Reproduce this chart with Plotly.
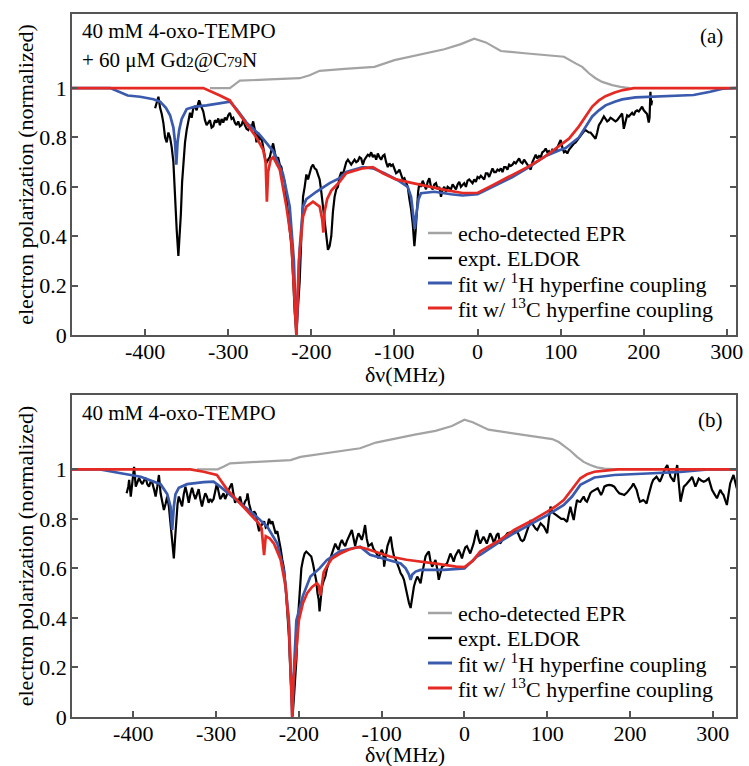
import plotly.graph_objects as go

FONT = "Liberation Serif"

# ---------------- Panel (a) data ----------------
gray_a_x = [-322, -298, -292, -286, -250, -214, -202, -190, -160, -124, -100, -70, -40, -20, -4, 10, 28, 60, 90, 104, 118, 126, 134, 142, 150, 162, 172, 183]
gray_a_y = [1.0, 1.0, 1.015, 1.03, 1.035, 1.04, 1.052, 1.07, 1.078, 1.086, 1.113, 1.135, 1.157, 1.178, 1.20, 1.185, 1.15, 1.14, 1.132, 1.127, 1.10, 1.086, 1.06, 1.04, 1.025, 1.012, 1.005, 1.0]

black_a_x = [-388, -386, -384, -382, -380, -378, -376, -374, -372, -370, -368, -366, -364, -362, -360, -358.5, -357, -355.5, -354, -352,
             -350, -348, -346, -344, -342, -340, -338, -336, -335, -333, -330, -328, -326, -324, -322, -320, -318, -316, -314, -312,
             -310, -308, -306, -304, -302, -300, -298, -296, -294, -292, -290, -288, -286, -284, -282, -280, -278, -276, -274, -272,
             -270, -268, -266, -264, -262, -260, -258, -256, -254.5, -252, -250, -248, -246, -244, -242, -240, -238, -236, -234, -232,
             -230, -228, -226, -224, -222, -220, -218, -216, -214, -212, -210, -208, -206, -204, -202, -200, -198, -196, -194, -192,
             -190, -188, -186, -184, -182, -180, -178, -176, -174, -172, -170, -168, -166, -164, -162, -160, -158, -156, -154, -152,
             -150, -148, -146, -144, -142, -140, -138, -136, -134, -132, -130, -128, -126, -124, -122, -120, -118, -116, -114, -112,
             -110, -108, -106, -104, -102, -100, -98, -96, -94, -92, -90, -88, -86, -84, -82, -80, -78, -76, -74.5, -73,
             -71.5, -70, -68, -66, -64, -62, -60, -58, -56, -54, -52, -50, -48, -46, -44, -42, -40, -38, -36, -34,
             -32, -30, -28, -26, -24, -22, -20, -18, -16, -14, -12, -10, -8, -6, -4, -2, 0, 2, 4, 6,
             8, 10, 12, 14, 16, 18, 20, 22, 24, 26, 28, 30, 32, 34, 36, 38, 40, 42, 44, 46,
             48, 50, 52, 54, 56, 58, 60, 62, 64, 66, 68, 70, 72, 74, 76, 78, 80, 82, 84, 86,
             88, 90, 92, 94, 96, 98, 100, 102, 104, 106, 108, 110, 112, 114, 116, 118, 120, 122, 124, 126,
             128, 130, 132, 134, 136, 138, 140, 142, 144, 146, 148, 150, 152, 154, 156, 158, 160, 162, 164, 166,
             168, 170, 172, 174, 176, 178, 180, 182, 184, 186, 188, 190, 192, 194, 196, 198, 200, 202, 204, 206,
             207, 208, 209, 210]
black_a_y = [0.918, 0.94, 0.965, 0.92, 0.895, 0.858, 0.80, 0.78, 0.82, 0.80, 0.76, 0.70, 0.55, 0.425, 0.32, 0.40, 0.49, 0.62, 0.70, 0.78,
             0.83, 0.86, 0.90, 0.88, 0.92, 0.925, 0.91, 0.94, 0.95, 0.93, 0.905, 0.87, 0.85, 0.86, 0.87, 0.84, 0.845, 0.87, 0.86, 0.877,
             0.85, 0.875, 0.86, 0.88, 0.87, 0.89, 0.90, 0.875, 0.88, 0.86, 0.85, 0.865, 0.845, 0.85, 0.87, 0.85, 0.835, 0.83, 0.85, 0.84,
             0.865, 0.83, 0.78, 0.82, 0.79, 0.80, 0.76, 0.72, 0.695, 0.71, 0.72, 0.75, 0.776, 0.74, 0.71, 0.72, 0.69, 0.68, 0.64, 0.62,
             0.56, 0.50, 0.44, 0.36, 0.24, 0.09, 0.01, 0.10, 0.22, 0.40, 0.56, 0.60, 0.65, 0.63, 0.66, 0.68, 0.69, 0.675, 0.67, 0.65,
             0.63, 0.58, 0.52, 0.45, 0.385, 0.345, 0.36, 0.40, 0.50, 0.56, 0.59, 0.60, 0.64, 0.66, 0.65, 0.68, 0.70, 0.71, 0.70, 0.69,
             0.70, 0.71, 0.70, 0.705, 0.72, 0.715, 0.69, 0.71, 0.72, 0.73, 0.725, 0.74, 0.72, 0.73, 0.71, 0.735, 0.72, 0.71, 0.725, 0.73,
             0.70, 0.68, 0.695, 0.685, 0.69, 0.67, 0.655, 0.66, 0.67, 0.65, 0.63, 0.635, 0.62, 0.60, 0.55, 0.51, 0.45, 0.36, 0.42, 0.52,
             0.58, 0.615, 0.60, 0.625, 0.61, 0.59, 0.62, 0.635, 0.60, 0.59, 0.61, 0.615, 0.59, 0.60, 0.56, 0.59, 0.60, 0.58, 0.60, 0.595,
             0.59, 0.61, 0.60, 0.59, 0.61, 0.62, 0.60, 0.61, 0.615, 0.60, 0.625, 0.63, 0.62, 0.615, 0.63, 0.62, 0.64, 0.635, 0.645, 0.635,
             0.63, 0.655, 0.655, 0.64, 0.66, 0.675, 0.66, 0.66, 0.67, 0.665, 0.675, 0.66, 0.68, 0.68, 0.67, 0.69, 0.685, 0.69, 0.70, 0.695,
             0.705, 0.715, 0.70, 0.695, 0.71, 0.70, 0.69, 0.68, 0.67, 0.70, 0.715, 0.73, 0.715, 0.725, 0.72, 0.74, 0.745, 0.755, 0.74, 0.745,
             0.735, 0.75, 0.745, 0.745, 0.76, 0.775, 0.79, 0.76, 0.74, 0.745, 0.735, 0.75, 0.76, 0.765, 0.775, 0.78, 0.79, 0.80, 0.81, 0.815,
             0.825, 0.83, 0.825, 0.82, 0.82, 0.81, 0.80, 0.795, 0.82, 0.85, 0.86, 0.87, 0.885, 0.875, 0.865, 0.87, 0.88, 0.875, 0.87, 0.865,
             0.87, 0.88, 0.89, 0.897, 0.835, 0.87, 0.89, 0.885, 0.895, 0.90, 0.89, 0.905, 0.91, 0.905, 0.915, 0.925, 0.91, 0.90, 0.895, 0.86,
             0.88, 0.985, 0.93, 0.95]

blue_a_x = [-488, -442, -421, -406, -390, -382, -375, -370, -366, -364, -362.5, -361, -359, -356, -350, -340, -326, -298, -290, -278,
            -262, -246, -234, -226, -221, -218, -214, -210, -206, -194, -178, -166, -158, -138, -126, -112, -96, -84, -80, -77,
            -75.5, -74, -71, -68, -52, -32, -18, 0, 22, 42, 62, 82, 100, 106, 122, 130, 138, 146, 154, 165,
            174, 190, 210, 234, 260, 280, 295, 311]
blue_a_y = [1.0, 1.0, 0.97, 0.965, 0.955, 0.945, 0.92, 0.89, 0.84, 0.78, 0.69, 0.78, 0.83, 0.875, 0.915, 0.925, 0.93, 0.945, 0.915, 0.86,
            0.81, 0.745, 0.65, 0.52, 0.30, 0.0, 0.35, 0.52, 0.55, 0.58, 0.615, 0.635, 0.66, 0.68, 0.675, 0.655, 0.627, 0.60, 0.56, 0.48,
            0.43, 0.48, 0.55, 0.574, 0.58, 0.57, 0.565, 0.57, 0.605, 0.64, 0.68, 0.725, 0.75, 0.757, 0.80, 0.845, 0.885, 0.91, 0.93, 0.945,
            0.954, 0.962, 0.965, 0.967, 0.972, 0.985, 0.998, 1.0]

red_a_x = [-488, -330, -310, -298, -290, -278, -266, -258, -255, -253.5, -252, -249, -246, -238, -230, -224, -220, -218, -215, -210,
           -206, -198, -190, -187, -185.5, -184, -181, -176, -166, -158, -138, -126, -114, -98, -78, -58, -38, -18, -6, 0,
           20, 40, 60, 80, 100, 110, 122, 130, 138, 146, 154, 165, 175, 188, 311]
red_a_y = [1.0, 1.0, 0.97, 0.95, 0.91, 0.857, 0.80, 0.75, 0.70, 0.54, 0.66, 0.71, 0.72, 0.67, 0.52, 0.38, 0.12, 0.0, 0.30, 0.48,
           0.52, 0.54, 0.52, 0.47, 0.415, 0.50, 0.55, 0.585, 0.62, 0.655, 0.675, 0.68, 0.655, 0.63, 0.615, 0.60, 0.587, 0.575, 0.575, 0.575,
           0.61, 0.645, 0.68, 0.72, 0.77, 0.795, 0.845, 0.885, 0.925, 0.95, 0.967, 0.982, 0.992, 1.0, 1.0]

# ---------------- Panel (b) data ----------------
gray_b_x = [-323, -298, -290, -283, -250, -210, -198, -160, -126, -107, -83, -60, -35, -15, 0, 10, 29, 60, 90, 106, 114, 122, 128, 136, 144, 152, 160, 169, 185]
gray_b_y = [1.0, 1.0, 1.012, 1.024, 1.03, 1.037, 1.05, 1.07, 1.085, 1.108, 1.125, 1.14, 1.155, 1.175, 1.20, 1.19, 1.16, 1.145, 1.13, 1.122, 1.11, 1.09, 1.075, 1.05, 1.03, 1.017, 1.008, 1.003, 1.0]

black_b_x = [-408, -406, -405, -403, -401, -399, -397, -395, -393, -391, -389, -387, -385, -383, -381, -379, -377, -375, -373, -371,
             -369, -367, -365, -363, -361, -359, -357, -355, -353, -351, -349.5, -348, -346.5, -345, -343, -341, -339, -337, -335, -333,
             -331, -329, -327, -325, -323, -321, -319, -317, -315, -313, -311, -309, -307, -305, -303, -301, -299, -297, -295, -293,
             -291, -289, -287, -285, -283, -281, -279, -277, -275, -273, -271, -269, -267, -265, -263, -262, -260, -258, -256, -254,
             -252, -250, -248, -246, -244, -242, -240, -238, -236, -234, -232, -230, -228, -226, -224, -222, -220, -218, -216, -214,
             -212, -210.5, -209, -207.5, -205.5, -203, -201, -199, -197, -195, -193, -191, -189, -187, -185, -183, -181, -179, -177.5, -176,
             -175, -173.5, -172, -170, -168, -166, -164, -162, -160, -158, -156, -154, -152, -150, -148, -146, -144, -142, -140, -138,
             -136, -134, -132, -130, -128, -126, -124, -122, -120, -118, -116, -114, -112, -110, -108, -106, -104, -102, -100, -98,
             -97, -95, -93, -91, -89, -87, -85, -83, -81, -79, -77, -75, -73, -71, -69, -67, -65, -63, -61, -59,
             -57, -55, -53, -51, -49, -47, -45, -43, -41, -39, -37, -35, -33, -31, -29, -27, -25, -23, -21, -19,
             -17, -15, -13, -11, -9, -7, -5, -3, -1, 1, 3, 5, 7, 9, 11, 13, 15, 17, 19, 21,
             23, 25, 27, 29, 31, 33, 35, 37, 39, 41, 43, 45, 47, 49, 52, 55, 58, 61, 64, 66,
             68, 70, 72, 74, 76, 78, 80, 82, 84, 86, 88, 90, 92, 94, 96, 98, 100, 102, 104, 106,
             108, 111, 114, 117, 120, 122, 124, 126, 128, 130, 132, 134, 136, 138, 140, 142, 144, 146, 148, 150,
             152, 154, 157, 159, 161, 163, 165, 167, 169, 172, 175, 178, 181, 184, 187, 190, 193, 196, 199, 202,
             204, 206, 208, 210, 212, 214, 216, 218, 220, 222, 224, 226, 228, 230, 232, 234, 236, 238, 240, 242,
             245, 247, 249, 251, 253, 255, 257, 259, 261, 263, 265, 268, 271, 273, 275, 277, 279, 281, 283, 286,
             289, 292, 295, 297, 299, 302, 305, 307, 309, 311, 313, 315, 317, 319, 321, 323, 325, 327, 329]
black_b_y = [0.903, 0.93, 0.957, 0.89, 0.95, 1.01, 0.93, 0.95, 0.965, 0.95, 0.94, 0.955, 0.965, 0.94, 0.93, 0.95, 0.945, 0.92, 0.89, 0.93,
             0.977, 0.903, 0.87, 0.836, 0.86, 0.89, 0.85, 0.77, 0.70, 0.64, 0.72, 0.80, 0.86, 0.89, 0.87, 0.85, 0.90, 0.93, 0.90, 0.865,
             0.90, 0.925, 0.90, 0.88, 0.90, 0.92, 0.88, 0.85, 0.88, 0.903, 0.89, 0.865, 0.88, 0.87, 0.88, 0.91, 0.943, 0.91, 0.88, 0.89,
             0.903, 0.88, 0.90, 0.915, 0.93, 0.943, 0.90, 0.865, 0.88, 0.87, 0.89, 0.86, 0.85, 0.87, 0.88, 0.903, 0.86, 0.83, 0.81, 0.83,
             0.82, 0.78, 0.75, 0.77, 0.78, 0.79, 0.765, 0.77, 0.80, 0.78, 0.79, 0.76, 0.74, 0.75, 0.72, 0.68, 0.635, 0.60, 0.53, 0.43,
             0.325, 0.20, 0.10, 0.005, 0.10, 0.23, 0.40, 0.527, 0.60, 0.635, 0.66, 0.668, 0.66, 0.655, 0.648, 0.62, 0.58, 0.55, 0.50, 0.473,
             0.426, 0.48, 0.527, 0.55, 0.567, 0.60, 0.62, 0.64, 0.66, 0.68, 0.70, 0.685, 0.675, 0.70, 0.715, 0.70, 0.69, 0.71, 0.728, 0.74,
             0.755, 0.72, 0.69, 0.72, 0.742, 0.73, 0.715, 0.74, 0.775, 0.72, 0.69, 0.695, 0.70, 0.68, 0.67, 0.66, 0.64, 0.655, 0.675, 0.66,
             0.607, 0.65, 0.69, 0.71, 0.728, 0.68, 0.648, 0.635, 0.62, 0.60, 0.58, 0.57, 0.554, 0.52, 0.493, 0.46, 0.44, 0.49, 0.527, 0.55,
             0.567, 0.555, 0.54, 0.58, 0.62, 0.648, 0.66, 0.668, 0.63, 0.607, 0.62, 0.634, 0.60, 0.554, 0.58, 0.607, 0.61, 0.615, 0.62, 0.64,
             0.66, 0.645, 0.627, 0.65, 0.665, 0.675, 0.66, 0.64, 0.665, 0.685, 0.69, 0.675, 0.66, 0.68, 0.70, 0.73, 0.755, 0.72, 0.70, 0.715,
             0.728, 0.715, 0.70, 0.72, 0.742, 0.728, 0.708, 0.715, 0.735, 0.742, 0.70, 0.71, 0.72, 0.73, 0.742, 0.745, 0.748, 0.75, 0.748, 0.73,
             0.715, 0.71, 0.715, 0.735, 0.755, 0.775, 0.795, 0.78, 0.768, 0.76, 0.755, 0.77, 0.782, 0.775, 0.768, 0.755, 0.742, 0.80, 0.849, 0.83,
             0.822, 0.815, 0.808, 0.80, 0.80, 0.795, 0.788, 0.82, 0.849, 0.82, 0.795, 0.84, 0.876, 0.87, 0.869, 0.88, 0.89, 0.875, 0.869, 0.885,
             0.903, 0.91, 0.917, 0.92, 0.923, 0.91, 0.896, 0.91, 0.93, 0.935, 0.937, 0.935, 0.93, 0.915, 0.903, 0.90, 0.896, 0.905, 0.917, 0.93,
             0.943, 0.93, 0.917, 0.89, 0.869, 0.872, 0.876, 0.87, 0.862, 0.89, 0.917, 0.94, 0.957, 0.965, 0.97, 0.96, 0.95, 0.965, 0.983, 1.0,
             1.017, 0.99, 0.97, 0.96, 0.95, 0.985, 1.017, 0.94, 0.869, 0.90, 0.93, 0.94, 0.95, 0.96, 0.97, 0.95, 0.93, 0.945, 0.963, 0.955,
             0.95, 0.955, 0.963, 0.94, 0.917, 0.90, 0.883, 0.90, 0.917, 0.905, 0.896, 0.875, 0.856, 0.90, 0.943, 0.96, 0.977, 0.95, 0.923]

blue_b_x = [-474, -440, -415, -391, -367, -359, -355, -353, -351, -349, -345, -335, -315, -303, -295, -275, -255, -238, -226, -218,
            -212, -209.5, -208, -206.5, -203, -195, -186, -175, -166, -150, -126, -114, -93, -77, -71, -67, -65, -63, -59, -53,
            -25, 0, 15, 19, 43, 60, 100, 120, 130, 140, 157, 181, 221, 261, 294, 328]
blue_b_y = [1.0, 1.0, 0.984, 0.97, 0.94, 0.90, 0.85, 0.755, 0.85, 0.90, 0.925, 0.94, 0.948, 0.95, 0.93, 0.876, 0.82, 0.768, 0.70, 0.59,
            0.39, 0.15, 0.0, 0.15, 0.39, 0.49, 0.567, 0.60, 0.634, 0.67, 0.688, 0.655, 0.634, 0.62, 0.60, 0.575, 0.554, 0.575, 0.587, 0.594,
            0.594, 0.60, 0.648, 0.655, 0.708, 0.742, 0.815, 0.856, 0.89, 0.937, 0.967, 0.977, 0.983, 0.99, 1.0, 1.0]

red_b_x = [-474, -331, -315, -299, -287, -275, -259, -248, -245, -242, -240, -235, -230, -222, -216, -212, -209.5, -208, -206.5, -204,
           -200, -195, -190, -184, -178, -176, -174, -172, -170, -165, -160, -150, -140, -130, -125, -115, -100, -90, -70, -50,
           -30, -10, 0, 10, 19, 30, 43, 60, 80, 100, 110, 120, 128, 134, 140, 148, 157, 170, 185, 328]
red_b_y = [1.0, 1.0, 0.99, 0.977, 0.92, 0.876, 0.82, 0.78, 0.76, 0.654, 0.73, 0.72, 0.70, 0.635, 0.527, 0.365, 0.15, 0.0, 0.15, 0.23,
           0.39, 0.46, 0.50, 0.525, 0.54, 0.53, 0.49, 0.55, 0.585, 0.615, 0.64, 0.66, 0.675, 0.685, 0.685, 0.675, 0.66, 0.648, 0.635, 0.627,
           0.617, 0.607, 0.605, 0.63, 0.668, 0.69, 0.715, 0.755, 0.79, 0.829, 0.85, 0.876, 0.91, 0.94, 0.964, 0.98, 0.99, 0.995, 1.0, 1.0]

# ---------------- Labels ----------------
x_tickvals = [-400, -300, -200, -100, 0, 100, 200, 300]
x_ticktext = ["-400", "-300", "-200", "-100", "0", "100", "200", "300"]
y_tickvals = [0, 0.2, 0.4, 0.6, 0.8, 1.0]
y_ticktext = ["0", "0.2", "0.4", "0.6", "0.8", "1"]
x_title = "δν(MHz)"
y_title = "electron polarization (normalized)"
series_names = ["echo-detected EPR", "expt. ELDOR",
                "fit w/ <sup>1</sup>H hyperfine coupling", "fit w/ <sup>13</sup>C hyperfine coupling"]
series_colors = ["#a3a3a3", "#000000", "#3a5aae", "#e42a23"]
series_widths = [2.2, 2.2, 2.7, 2.7]

panels = [
    dict(xa="x", ya="y", data=[(gray_a_x, gray_a_y), (black_a_x, black_a_y), (blue_a_x, blue_a_y), (red_a_x, red_a_y)]),
    dict(xa="x2", ya="y2", data=[(gray_b_x, gray_b_y), (black_b_x, black_b_y), (blue_b_x, blue_b_y), (red_b_x, red_b_y)]),
]

fig = go.Figure()
for p in panels:
    for (xs, ys), name, col, w in zip(p["data"], series_names, series_colors, series_widths):
        fig.add_trace(go.Scatter(x=xs, y=ys, mode="lines", name=name, showlegend=False,
                                 line=dict(color=col, width=w), xaxis=p["xa"], yaxis=p["ya"]))

W, H = 749, 766
ML, MR, MT, MB = 72, 13, 14, 49
PW, PH = W - ML - MR, H - MT - MB

def px2paper(px, py):
    return (px - ML) / PW, (H - MB - py) / PH

axis_line = "#555555"
common_x = dict(tickvals=x_tickvals, ticktext=x_ticktext, ticks="inside", ticklen=6, tickwidth=1.5,
                tickcolor=axis_line, showline=True, linecolor=axis_line, linewidth=1.5, mirror=True,
                showgrid=False, zeroline=False, tickfont=dict(family=FONT, size=22, color="black"),
                ticklabelstandoff=-4)
common_y = dict(tickvals=y_tickvals, ticktext=y_ticktext, range=[0, 1.30], ticks="inside", ticklen=6, tickwidth=1.5,
                tickcolor=axis_line, showline=True, linecolor=axis_line, linewidth=1.5, mirror="ticks",
                showgrid=False, zeroline=False, tickfont=dict(family=FONT, size=22, color="black"),
                ticklabelstandoff=-1,
                title=dict(text=y_title, font=dict(family=FONT, size=22, color="black"), standoff=0))

_, ya_bot = px2paper(0, 335)
_, yb_top = px2paper(0, 395)

fig.update_layout(
    width=W, height=H, margin=dict(l=ML, r=MR, t=MT, b=MB, autoexpand=False),
    paper_bgcolor="white", plot_bgcolor="white", showlegend=False,
    font=dict(family=FONT, color="black"),
    xaxis=dict(common_x, range=[-488, 311], domain=[0, 1], anchor="y"),
    yaxis=dict(common_y, domain=[ya_bot, 1], anchor="x"),
    xaxis2=dict(common_x, range=[-474, 328], domain=[0, 1], anchor="y2"),
    yaxis2=dict(common_y, domain=[0, yb_top], anchor="x2"),
)

annots = []
shapes = []
sub = "<span style='font-size:15px'>%s</span>"
texts = [
    ("40 mM 4-oxo-TEMPO", 80, 31),
    ("+ 60 μM Gd" + sub % "2" + "@C" + sub % "79" + "N", 80, 60),
    ("40 mM 4-oxo-TEMPO", 80, 413),
]
for t, px, py in texts:
    x, y = px2paper(px, py)
    annots.append(dict(text=t, x=x, y=y, xref="paper", yref="paper", xanchor="left", yanchor="middle",
                       showarrow=False, font=dict(family=FONT, size=21, color="black")))
for t, py in [("(a)", 36), ("(b)", 420)]:
    x, y = px2paper(725, py)
    annots.append(dict(text=t, x=x, y=y, xref="paper", yref="paper", xanchor="right", yanchor="middle",
                       showarrow=False, font=dict(family=FONT, size=21, color="black")))

# x-axis titles (placed exactly under each panel; the lower one sits at the page edge as in the original)
for py in [374, 755]:
    x, y = px2paper(405, py)
    annots.append(dict(text=x_title, x=x, y=y, xref="paper", yref="paper", xanchor="center", yanchor="middle",
                       showarrow=False, font=dict(family=FONT, size=22, color="black")))

# legends drawn per panel
legend_rows = [[233, 258, 283, 308], [613, 638, 663, 688]]
for rows in legend_rows:
    for name, col, w, py in zip(series_names, series_colors, series_widths, rows):
        x0, y0 = px2paper(428, py)
        x1, _ = px2paper(452, py)
        shapes.append(dict(type="line", xref="paper", yref="paper", x0=x0, x1=x1, y0=y0, y1=y0,
                           line=dict(color=col, width=w + 0.3)))
        xt, _ = px2paper(456, py)
        annots.append(dict(text=name, x=xt, y=y0, xref="paper", yref="paper", xanchor="left", yanchor="middle",
                           showarrow=False, font=dict(family=FONT, size=22, color="black")))

fig.update_layout(annotations=annots, shapes=shapes)
fig.write_html("out.html", config={"displayModeBar": False},
               post_script="document.body.style.margin='0';")
